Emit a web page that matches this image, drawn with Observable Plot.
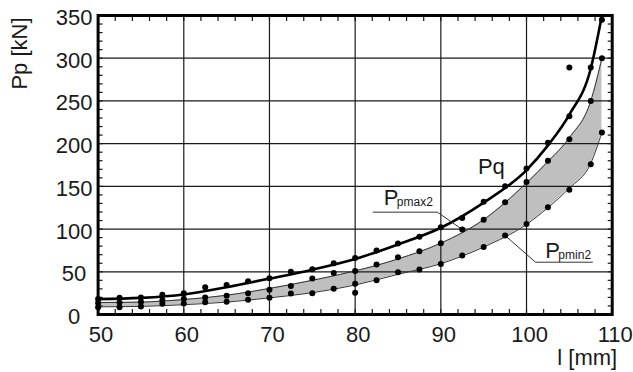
<!DOCTYPE html>
<html><head><meta charset="utf-8">
<script src="https://cdn.jsdelivr.net/npm/d3@7"></script>
<script src="https://cdn.jsdelivr.net/npm/@observablehq/plot@0.6"></script>
<style>
html,body{margin:0;padding:0;background:#fff;}
#chart{width:633px;height:372px;overflow:hidden;}
#chart svg, #chart svg text{font-family:"Liberation Sans", Arial, sans-serif !important;}
</style></head><body><div id="chart"></div>
<script>
// measured points (l in mm, forces in kN)
const lengths   = [50, 52.5, 55, 57.5, 60, 62.5, 65, 67.5, 70, 72.5, 75, 77.5, 80, 82.5, 85, 87.5, 90, 92.5, 95, 97.5, 100, 102.5, 105, 107.5, 108.8];
const pqPoints  = [18, 19.5, 20, 23, 25, 32, 34.5, 39, 42.5, 50, 53, 60, 66, 75, 83, 91, 102, 113, 132, 150, 171, 201, 232, 289, 345];
const maxPoints = [13.5, 14, 14.5, 17, 18.5, 20, 22, 25, 29, 33.5, 42, 48.5, 51, 58.5, 67, 74, 83.5, 99.5, 111, 131.5, 155, 180, 205, 250, 300];
const minPoints = [8.5, 8.6, 9.4, 12.5, 13, 14.2, 14.8, 17.4, 19.5, 24.5, 25, 30, 36, 40, 49.5, 52.7, 59, 69, 79, 92.5, 105.8, 125.6, 146, 176, 213];
const outlierX  = [80, 105];
const outlierY  = [25.4, 289];

// fitted curves
const curveX   = [50, 55, 60, 65, 70, 75, 80, 85, 90, 95, 100, 102.5, 105, 107.5, 108.8];
const pqCurve  = [18, 19.5, 23.5, 32, 42, 52.5, 65, 82, 101.5, 131, 169, 198, 234, 288, 350];
const maxCurve = [14, 14.5, 17.5, 22.5, 30.5, 40, 51, 65, 83.5, 111, 154, 179, 207, 250, 300];
const minCurve = [9, 9.5, 11.5, 14.5, 19.5, 25.5, 34.5, 47, 59.5, 79, 105.5, 125, 148, 177, 213];

const xTicks = [50, 60, 70, 80, 90, 100, 110];
const yTicks = [0, 50, 100, 150, 200, 250, 300, 350];
const xMinor = d3.range(50, 111, 2);
const yMinor = d3.range(0, 351, 10);

// annotations
const pqLabel  = [{x: 95.9, y: 164, text: "Pq"}];
const maxLabel = [{x: 83.35, y: 127.6}];
const minLabel = [{x: 102.2, y: 65.9}];
const maxLeader = [{x: 82.1, y: 119.8}, {x: 89.6, y: 119.8}, {x: 92.5, y: 99.5}];
const minLeader = [{x: 97.5, y: 92.5}, {x: 101.05, y: 61.2}, {x: 107.7, y: 61.2}];

const pts = lengths.map((l, i) => ({l, pq: pqPoints[i], mx: maxPoints[i], mn: minPoints[i]}));
const outliers = outlierX.map((l, i) => ({l, v: outlierY[i]}));
const curves = curveX.map((l, i) => ({l, pq: pqCurve[i], mx: maxCurve[i], mn: minCurve[i]}));

const FONT = "'Liberation Sans', Arial, Helvetica, sans-serif";
const INK = "#1a1a1a";

const plot = Plot.plot({
  width: 633,
  height: 372,
  marginLeft: 97.6,
  marginRight: 21.3,
  marginTop: 15,
  marginBottom: 58,
  style: {fontFamily: FONT, color: INK, background: "#fff", overflow: "visible"},
  x: {domain: [50, 110]},
  y: {domain: [0, 350]},
  marks: [
    Plot.areaY(curves, {x: "l", y1: "mn", y2: "mx", fill: "#bfbfbf", curve: "monotone-x"}),
    Plot.ruleX(xTicks.slice(1, -1), {stroke: "#1a1a1a", strokeWidth: 1.2}),
    Plot.ruleY(yTicks.slice(1, -1), {stroke: "#1a1a1a", strokeWidth: 1.2}),
    Plot.axisX({ticks: xMinor, anchor: "bottom", tickSize: -5, text: null, label: null, strokeWidth: 1.2}),
    Plot.axisX({ticks: xMinor, anchor: "top", tickSize: -5, text: null, label: null, strokeWidth: 1.2}),
    Plot.axisY({ticks: yMinor, anchor: "left", tickSize: -5, text: null, label: null, strokeWidth: 1.2}),
    Plot.axisY({ticks: yMinor, anchor: "right", tickSize: -5, text: null, label: null, strokeWidth: 1.2}),
    Plot.axisX({ticks: xTicks, anchor: "bottom", tickSize: 0, tickPadding: 12, dx: 3, fontSize: 22, fontFamily: FONT, label: null}),
    Plot.axisY({ticks: yTicks, anchor: "left", tickSize: 0, tickPadding: 24, textAnchor: "middle", dy: 2.5, fontSize: 22, fontFamily: FONT, label: null}),
    Plot.line(curves, {x: "l", y: "mx", stroke: "#333", strokeWidth: 1, curve: "monotone-x"}),
    Plot.line(curves, {x: "l", y: "mn", stroke: "#333", strokeWidth: 1, curve: "monotone-x"}),
    Plot.line(curves, {x: "l", y: "pq", stroke: "#000", strokeWidth: 2.6, curve: "monotone-x"}),
    Plot.line(maxLeader, {x: "x", y: "y", stroke: "#333", strokeWidth: 1}),
    Plot.line(minLeader, {x: "x", y: "y", stroke: "#333", strokeWidth: 1}),
    Plot.dot(pts, {x: "l", y: "pq", r: 3, fill: "#000"}),
    Plot.dot(pts, {x: "l", y: "mx", r: 3, fill: "#000"}),
    Plot.dot(pts, {x: "l", y: "mn", r: 3, fill: "#000"}),
    Plot.dot(outliers, {x: "l", y: "v", r: 3, fill: "#000"}),
    Plot.text(pqLabel, {x: "x", y: "y", text: "text", fontSize: 22, fontFamily: FONT, textAnchor: "middle", lineAnchor: "bottom", fill: INK}),
    Plot.text(maxLabel, {x: "x", y: "y", text: () => "P", fontSize: 22, fontFamily: FONT, textAnchor: "start", lineAnchor: "bottom", fill: INK}),
    Plot.text(maxLabel, {x: "x", y: "y", text: () => "pmax2", fontSize: 12, fontFamily: FONT, textAnchor: "start", lineAnchor: "bottom", dx: 13, dy: 1, fill: INK}),
    Plot.text(minLabel, {x: "x", y: "y", text: () => "P", fontSize: 22, fontFamily: FONT, textAnchor: "start", lineAnchor: "bottom", fill: INK}),
    Plot.text(minLabel, {x: "x", y: "y", text: () => "pmin2", fontSize: 12, fontFamily: FONT, textAnchor: "start", lineAnchor: "bottom", dx: 13, dy: 1, fill: INK}),
    Plot.text(["Pp [kN]"], {frameAnchor: "top-left", dx: -78, dy: 38, rotate: -90, fontSize: 22, fontFamily: FONT, textAnchor: "middle", lineAnchor: "middle", fill: INK}),
    Plot.text(["l [mm]"], {frameAnchor: "bottom-right", dx: 5, dy: 50, fontSize: 22, fontFamily: FONT, textAnchor: "end", lineAnchor: "bottom", fill: INK}),
    Plot.frame({stroke: "#000", strokeWidth: 3})
  ]
});
document.getElementById("chart").appendChild(plot);
</script>
</body></html>
